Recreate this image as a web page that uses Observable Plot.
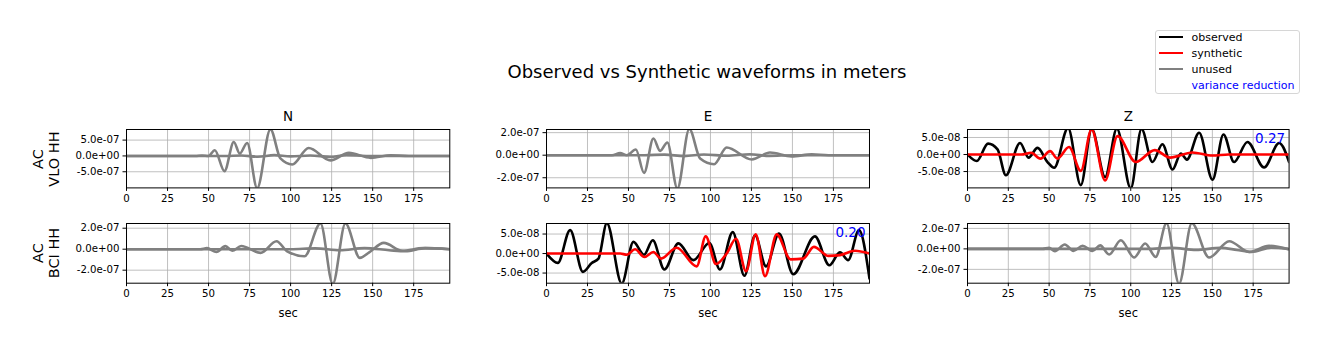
<!DOCTYPE html>
<html>
<head>
<meta charset="utf-8">
<script src="https://cdn.jsdelivr.net/npm/d3@7"></script>
<script src="https://cdn.jsdelivr.net/npm/@observablehq/plot@0.6"></script>
<style>
  html, body { margin: 0; padding: 0; background: white; }
  #root { position: relative; width: 1329px; height: 351px; overflow: hidden; font-family: "DejaVu Sans", sans-serif; color: black; }
  .abs { position: absolute; white-space: nowrap; line-height: 1; }
</style>
</head>
<body>
<div id="root"></div>
<script>
// ---------------- data ----------------
const components = ["N", "E", "Z"];
const stations = ["AC\nVLO HH", "AC\nBCI HH"];
const xTicks = [0, 25, 50, 75, 100, 125, 150, 175];
const legendLabels = ["observed", "synthetic", "unused", "variance reduction"];

// VLO N (unused)
const vloN_obs_t = [0, 42, 46, 50, 53.8, 59.7, 65.4, 69, 73.5, 79.6, 87.7, 93.8, 101, 111, 124.3, 135.5, 148.9, 160.9, 172, 197];
const vloN_obs_v = [0, 0, 0.15e-7, 0, 1.8e-7, -4.8e-7, 4.4e-7, 0.75e-7, 4.1e-7, -10.2e-7, 8.4e-7, -0.8e-7, -2.7e-7, 2.5e-7, -1.4e-7, 0.95e-7, -0.6e-7, 0.2e-7, 0, 0];
const vloN_syn_t = [0, 60, 70, 80, 90, 100, 112, 124, 134, 146, 197];
const vloN_syn_v = [0, 0, 0.15e-7, -0.25e-7, 0.25e-7, -0.15e-7, 0.15e-7, -0.3e-7, 0.25e-7, 0, 0];
const vloN_yTicks = [-5e-7, 0, 5e-7];
const vloN_yDomain = [-1.01e-6, 8.35e-7];

// VLO E (unused)
const vloE_obs_t = [0, 40, 44.9, 49, 54.5, 59.5, 65.2, 69.3, 73.7, 79.8, 87.1, 93.7, 102.2, 109.9, 125.2, 136.3, 149.5, 161.8, 172, 197];
const vloE_obs_v = [0, 0, 0.2e-7, 0, 0.5e-7, -1.57e-7, 1.48e-7, 0.38e-7, 1.13e-7, -2.95e-7, 2.32e-7, -0.3e-7, -0.8e-7, 0.68e-7, -0.38e-7, 0.24e-7, -0.1e-7, 0.07e-7, 0, 0];
const vloE_syn_t = [0, 60, 72, 84, 96, 110, 124, 136, 150, 197];
const vloE_syn_v = [0, 0, 0.05e-7, -0.08e-7, 0.06e-7, -0.05e-7, 0.08e-7, -0.06e-7, 0, 0];
const vloE_yTicks = [-2e-7, 0, 2e-7];
const vloE_yDomain = [-2.9e-7, 2.28e-7];

// VLO Z (used)
const vloZ_obs_t = [0, 5.7, 12.6, 18.4, 23.5, 32.2, 37.4, 42.9, 49, 53.1, 61.6, 69.4, 76.1, 84.3, 91.5, 100, 106.6, 113.3, 119.4, 125.6, 130.7, 134.4, 141.9, 150.1, 156.8, 163.3, 171.5, 181.7, 190.9, 197];
const vloZ_obs_v = [0, -1.9e-8, 3.2e-8, 1.5e-8, -6.1e-8, 3.4e-8, -0.9e-8, 1.95e-8, -2.2e-8, -3.9e-8, 7.8e-8, -9.0e-8, 7.5e-8, -6.6e-8, 7.6e-8, -9.9e-8, 7.5e-8, -2.2e-8, 3.0e-8, -4.4e-8, 0.3e-8, -1.5e-8, 6.4e-8, -7.4e-8, 5.9e-8, -2.2e-8, 3.7e-8, -3.8e-8, 3.4e-8, -2.2e-8];
const vloZ_syn_t = [0, 33, 39, 44.7, 50.6, 55.1, 62.2, 69.4, 76, 84.3, 91.9, 103.1, 114.7, 124.1, 137.8, 150, 160, 197];
const vloZ_syn_v = [0, 0, 0.5e-8, -1.2e-8, 1.0e-8, -1.2e-8, 2.2e-8, -4.8e-8, 7.4e-8, -7.6e-8, 5.4e-8, -2.2e-8, 1.3e-8, -0.9e-8, 0.6e-8, -0.3e-8, 0, 0];
const vloZ_yTicks = [-5e-8, 0, 5e-8];
const vloZ_yDomain = [-9.8e-8, 7.35e-8];
const vloZ_vr = "0.27";

// BCI N (unused)
const bciN_obs_t = [0, 45, 49, 54.8, 60.3, 64.4, 69.9, 81.7, 91.4, 97.9, 108.5, 118.2, 125.7, 133.4, 142.2, 147.9, 156.8, 168, 180.8, 197];
const bciN_obs_v = [0, 0, 0.1e-7, -0.26e-7, 0.29e-7, -0.15e-7, 0.3e-7, -0.35e-7, 0.76e-7, -0.2e-7, -0.67e-7, 2.45e-7, -3.3e-7, 2.45e-7, -0.83e-7, -0.3e-7, 0.6e-7, -0.15e-7, 0.1e-7, 0];
const bciN_syn_t = [0, 100, 115, 130, 145, 160, 170, 182, 197];
const bciN_syn_v = [0, 0, 0.08e-7, -0.1e-7, 0.1e-7, -0.1e-7, -0.2e-7, 0.1e-7, 0];
const bciN_yTicks = [-2e-7, 0, 2e-7];
const bciN_yDomain = [-3.24e-7, 2.45e-7];

// BCI E (used)
const bciE_obs_t = [0, 6.9, 14.4, 22.2, 27.6, 31.7, 36.8, 45.9, 53, 59.5, 64.8, 71.9, 80.4, 89.6, 99.3, 105.8, 113.6, 120.7, 127.2, 133.9, 141.8, 150.5, 163.7, 172.5, 179, 184, 190.6, 197];
const bciE_obs_v = [0, -2.4e-8, 6.0e-8, -4.7e-8, -2.4e-8, -1.3e-8, 7.8e-8, -7.7e-8, 3.0e-8, -0.3e-8, 3.4e-8, -4.1e-8, 2.6e-8, -1.7e-8, 2.7e-8, -4.1e-8, 5.5e-8, -5.7e-8, 4.7e-8, -3.3e-8, 5.1e-8, -5.3e-8, 4.4e-8, -3.0e-8, 0.3e-8, -1.7e-8, 6.0e-8, -6.4e-8];
const bciE_syn_t = [0, 45, 49, 54, 59.7, 65.2, 69.8, 79.4, 91.6, 97.1, 103.4, 109.9, 115.6, 121.7, 127.6, 133.3, 140.4, 148.9, 156.6, 163.1, 171.9, 179, 188.1, 197];
const bciE_syn_v = [0, 0, -0.3e-8, 1.1e-8, -0.9e-8, 0.4e-8, -1.3e-8, 1.5e-8, -3.3e-8, 4.4e-8, -2.7e-8, 0, 3.8e-8, -4.5e-8, 4.9e-8, -5.8e-8, 4.9e-8, -1.5e-8, -1.3e-8, 1.7e-8, -0.6e-8, -0.4e-8, 0.7e-8, 0];
const bciE_yTicks = [-5e-8, 0, 5e-8];
const bciE_yDomain = [-7.6e-8, 7.7e-8];
const bciE_vr = "0.20";

// BCI Z (unused)
const bciZ_obs_t = [0, 46, 50, 53.5, 59.6, 64.9, 70.5, 76.6, 81.3, 86.8, 93.9, 102.1, 108.8, 115.3, 121.9, 129.6, 137.4, 148, 160.3, 172.5, 184.7, 197];
const bciZ_obs_v = [0, 0, 0.1e-7, -0.22e-7, 0.43e-7, -0.2e-7, 0.3e-7, -0.2e-7, 0.34e-7, -0.55e-7, 0.85e-7, -0.84e-7, 0.52e-7, -0.78e-7, 2.5e-7, -3.4e-7, 2.5e-7, -0.84e-7, 0.75e-7, -0.3e-7, 0.3e-7, -0.05e-7];
const bciZ_syn_t = [0, 110, 125, 140, 155, 165, 174, 186, 197];
const bciZ_syn_v = [0, 0, 0.1e-7, -0.1e-7, 0.1e-7, -0.1e-7, -0.3e-7, 0.12e-7, 0];
const bciZ_yTicks = [-2e-7, 0, 2e-7];
const bciZ_yDomain = [-3.35e-7, 2.48e-7];

// ---------------- layout ----------------
const COLOR_OBS = "#000000", COLOR_SYN = "#ff0000", COLOR_UNUSED = "#808080", COLOR_VR = "#0000ff";
const colX = [[126, 449.3], [546.3, 869.3], [966.7, 1288.3]];
const rowY = [[129.3, 187.7], [223.3, 283]];
const X_DOMAIN = [0, 197];

const zip = (t, v) => t.map((d, i) => ({t: d, v: v[i]}));

function sciFmt(v) {
  const s = v.toExponential(1);
  const [m, e] = s.split("e");
  const sign = e[0] === "-" ? "-" : "+";
  const digits = e.replace(/^[+-]/, "").padStart(2, "0");
  return m + "e" + sign + digits;
}

const root = document.getElementById("root");

function panel(row, col, cfg) {
  const [x0, x1] = colX[col];
  const [y0, y1] = rowY[row];
  const mL = 95, mR = 14, mT = 30, mB = 45;
  const W = x1 - x0, H = y1 - y0;
  const lines = cfg.series.map(s => Plot.line(zip(s.t, s.v), {
    x: "t", y: "v", stroke: s.color, strokeWidth: 2.6, curve: "monotone-x", clip: true
  }));
  const marks = [
    Plot.gridX(xTicks, {stroke: "#b0b0b0", strokeOpacity: 1, strokeWidth: 0.8}),
    Plot.gridY(cfg.yTicks, {stroke: "#b0b0b0", strokeOpacity: 1, strokeWidth: 0.8}),
    ...lines,
    Plot.frame({stroke: "black", strokeWidth: 1}),
    Plot.axisX(xTicks, {tickSize: 3.5, tickPadding: 3, fontSize: 10.2, label: null, tickFormat: d => String(d)}),
    Plot.axisY(cfg.yTicks, {tickSize: 3.5, tickPadding: 3.5, fontSize: 10.2, label: null, tickFormat: sciFmt}),
  ];
  if (cfg.title) {
    marks.push(Plot.text([cfg.title], {text: d => d, frameAnchor: "top", dy: -12.5, lineAnchor: "middle", fontSize: 13.5}));
  }
  if (cfg.xlabel) {
    marks.push(Plot.text([cfg.xlabel], {text: d => d, frameAnchor: "bottom", dy: 30, lineAnchor: "middle", fontSize: 11.5}));
  }
  if (cfg.vr) {
    marks.push(Plot.text([cfg.vr], {text: d => d, frameAnchor: "top-right", dx: -4, dy: 9.5, lineAnchor: "middle", textAnchor: "end", fontSize: 13.5, fill: COLOR_VR}));
  }
  const chart = Plot.plot({
    width: W + mL + mR, height: H + mT + mB,
    marginLeft: mL, marginRight: mR, marginTop: mT, marginBottom: mB,
    style: {fontFamily: "DejaVu Sans", color: "black", background: "transparent", overflow: "visible"},
    x: {domain: X_DOMAIN},
    y: {domain: cfg.yDomain},
    marks
  });
  chart.style.position = "absolute";
  chart.style.left = (x0 - mL) + "px";
  chart.style.top = (y0 - mT) + "px";
  root.appendChild(chart);
}

panel(0, 0, {title: components[0], yTicks: vloN_yTicks, yDomain: vloN_yDomain,
  series: [{t: vloN_obs_t, v: vloN_obs_v, color: COLOR_UNUSED}, {t: vloN_syn_t, v: vloN_syn_v, color: COLOR_UNUSED}]});
panel(0, 1, {title: components[1], yTicks: vloE_yTicks, yDomain: vloE_yDomain,
  series: [{t: vloE_obs_t, v: vloE_obs_v, color: COLOR_UNUSED}, {t: vloE_syn_t, v: vloE_syn_v, color: COLOR_UNUSED}]});
panel(0, 2, {title: components[2], yTicks: vloZ_yTicks, yDomain: vloZ_yDomain, vr: vloZ_vr,
  series: [{t: vloZ_obs_t, v: vloZ_obs_v, color: COLOR_OBS}, {t: vloZ_syn_t, v: vloZ_syn_v, color: COLOR_SYN}]});
panel(1, 0, {xlabel: "sec", yTicks: bciN_yTicks, yDomain: bciN_yDomain,
  series: [{t: bciN_obs_t, v: bciN_obs_v, color: COLOR_UNUSED}, {t: bciN_syn_t, v: bciN_syn_v, color: COLOR_UNUSED}]});
panel(1, 1, {xlabel: "sec", yTicks: bciE_yTicks, yDomain: bciE_yDomain, vr: bciE_vr,
  series: [{t: bciE_obs_t, v: bciE_obs_v, color: COLOR_OBS}, {t: bciE_syn_t, v: bciE_syn_v, color: COLOR_SYN}]});
panel(1, 2, {xlabel: "sec", yTicks: bciZ_yTicks, yDomain: bciZ_yDomain,
  series: [{t: bciZ_obs_t, v: bciZ_obs_v, color: COLOR_UNUSED}, {t: bciZ_syn_t, v: bciZ_syn_v, color: COLOR_UNUSED}]});

// title
const title = document.createElement("div");
title.className = "abs";
title.textContent = "Observed vs Synthetic waveforms in meters";
Object.assign(title.style, {left: "707px", top: "72px", transform: "translate(-50%, -50%)", fontSize: "18px"});
root.appendChild(title);

// row labels
stations.forEach((s, i) => {
  const cy = (rowY[i][0] + rowY[i][1]) / 2;
  const d = document.createElement("div");
  d.className = "abs";
  d.innerHTML = s.split("\n").join("<br>");
  Object.assign(d.style, {left: "45.5px", top: cy + "px", transform: "translate(-50%, -50%) rotate(-90deg)",
    fontSize: "14.5px", lineHeight: "16px", textAlign: "center"});
  root.appendChild(d);
});

// legend
const leg = document.createElement("div");
leg.className = "abs";
Object.assign(leg.style, {left: "1155px", top: "30px", width: "145px", height: "64px", border: "1px solid #d6d6d6",
  borderRadius: "3px", background: "white", boxSizing: "border-box"});
root.appendChild(leg);
const legColors = [COLOR_OBS, COLOR_SYN, COLOR_UNUSED, null];
const legY = [37.3, 53.3, 69.3, 85.3];
legendLabels.forEach((lab, i) => {
  if (legColors[i]) {
    const ln = document.createElement("div");
    ln.className = "abs";
    Object.assign(ln.style, {left: "1159px", top: (legY[i] - 1) + "px", width: "24px", height: "2px", background: legColors[i]});
    root.appendChild(ln);
  }
  const tx = document.createElement("div");
  tx.className = "abs";
  tx.textContent = lab;
  Object.assign(tx.style, {left: "1191.5px", top: legY[i] + "px", transform: "translateY(-50%)", fontSize: "11px",
    color: legColors[i] ? "black" : COLOR_VR});
  root.appendChild(tx);
});
</script>
</body>
</html>
